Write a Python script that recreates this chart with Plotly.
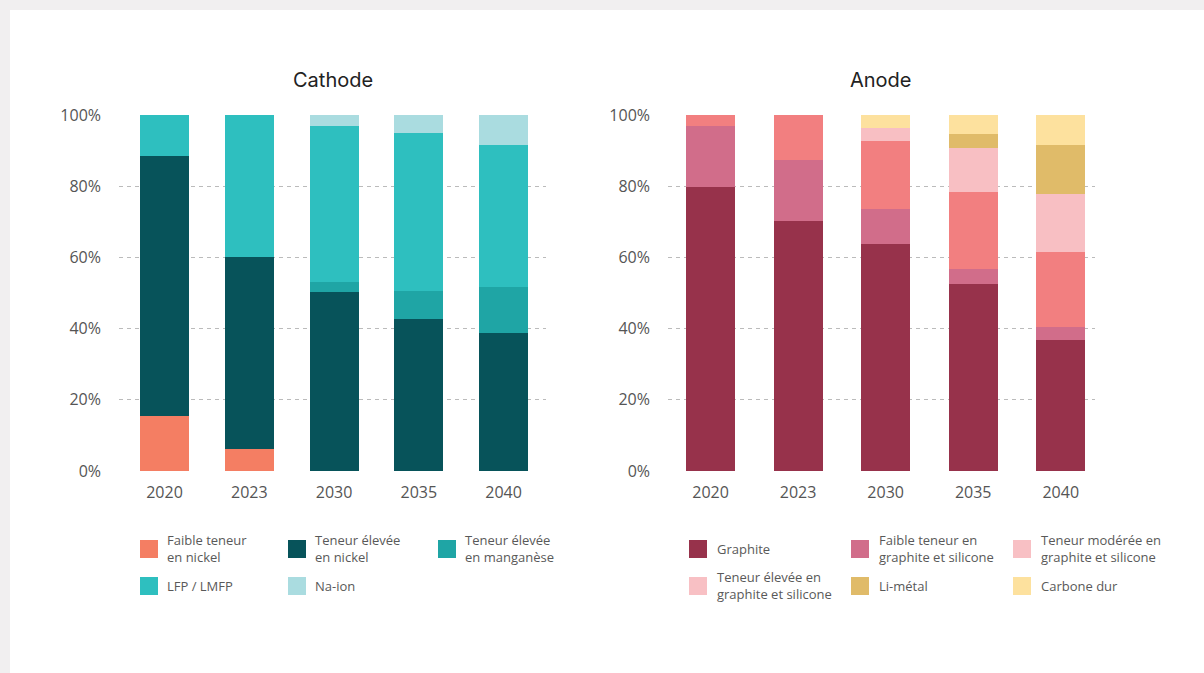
import plotly.graph_objects as go

W, H = 1204, 673

years = ["2020", "2023", "2030", "2035", "2040"]

# Cathode shares (%)
cath_faible_nickel = [15.4, 6.1, 0.0, 0.0, 0.0]
cath_eleve_nickel = [73.1, 54.0, 50.2, 42.6, 38.7]
cath_manganese = [0.0, 0.0, 2.8, 7.9, 12.9]
cath_lfp = [11.5, 39.9, 43.9, 44.4, 40.0]
cath_naion = [0.0, 0.0, 3.1, 5.1, 8.4]

# Anode shares (%)
an_graphite = [79.8, 70.2, 63.7, 52.5, 36.7]
an_faible = [17.1, 17.1, 9.9, 4.2, 3.7]
an_moderee = [3.1, 12.7, 19.1, 21.7, 21.1]
an_elevee = [0.0, 0.0, 3.6, 12.4, 16.3]
an_limetal = [0.0, 0.0, 0.0, 3.9, 13.8]
an_carbone = [0.0, 0.0, 3.7, 5.3, 8.4]

cath_names = ["Faible teneur en nickel", "Teneur élevée en nickel",
              "Teneur élevée en manganèse", "LFP / LMFP", "Na-ion"]
cath_colors = ["#F47E63", "#07535A", "#1FA5A5", "#2EBFBF", "#AADCE0"]
cath_legend_lines = [["Faible teneur", "en nickel"], ["Teneur élevée", "en nickel"],
                     ["Teneur élevée", "en manganèse"], ["LFP / LMFP"], ["Na-ion"]]

an_names = ["Graphite", "Faible teneur en graphite et silicone",
            "Teneur modérée en graphite et silicone",
            "Teneur élevée en graphite et silicone", "Li-métal", "Carbone dur"]
an_colors = ["#97324B", "#D16D8A", "#F27F80", "#F8BFC3", "#E0BB69", "#FDE19E"]
an_legend_colors = ["#97324B", "#D16D8A", "#F8C0C4", "#F8C0C4", "#E0BB69", "#FDE19E"]
an_legend_lines = [["Graphite"], ["Faible teneur en", "graphite et silicone"],
                   ["Teneur modérée en", "graphite et silicone"],
                   ["Teneur élevée en", "graphite et silicone"], ["Li-métal"], ["Carbone dur"]]

cath_series = [cath_faible_nickel, cath_eleve_nickel, cath_manganese, cath_lfp, cath_naion]
an_series = [an_graphite, an_faible, an_moderee, an_elevee, an_limetal, an_carbone]


def px_x(x):
    return x / W


def px_y(y):
    return 1 - y / H


fig = go.Figure()
for name, vals, col in zip(cath_names, cath_series, cath_colors):
    fig.add_trace(go.Bar(x=years, y=vals, name=name, marker=dict(color=col, line=dict(width=0)),
                         width=0.578, xaxis="x", yaxis="y", showlegend=False))
for name, vals, col in zip(an_names, an_series, an_colors):
    fig.add_trace(go.Bar(x=years, y=vals, name=name, marker=dict(color=col, line=dict(width=0)),
                         width=0.56, xaxis="x2", yaxis="y2", showlegend=False))

tickfont = dict(family="Open Sans", size=16, color="#555555")
grid = dict(showgrid=True, gridcolor="#BBBBBB", gridwidth=1, griddash="4px,4px",
            zeroline=False, showline=False, range=[0, 100], tickvals=[0, 20, 40, 60, 80, 100],
            ticktext=["0%", "20%", "40%", "60%", "80%", "100%"], tickfont=tickfont,
            ticks="", ticklabelstandoff=17, fixedrange=True)
ydom = [px_y(471), px_y(115)]
xcommon = dict(type="category", showgrid=False, zeroline=False, showline=False,
               tickfont=tickfont, ticks="", ticklabelstandoff=10, fixedrange=True)

fig.update_layout(
    width=W, height=H, barmode="stack", bargap=0,
    margin=dict(l=0, r=0, t=0, b=0, autoexpand=False),
    paper_bgcolor="#F1EFF0", plot_bgcolor="rgba(0,0,0,0)",
    xaxis=dict(domain=[px_x(119), px_x(546)], range=[-0.537, 4.50], anchor="y", **xcommon),
    xaxis2=dict(domain=[px_x(668), px_x(1095)], range=[-0.486, 4.391], anchor="y2", **xcommon),
    yaxis=dict(domain=ydom, anchor="x", **grid),
    yaxis2=dict(domain=ydom, anchor="x2", **grid),
    showlegend=False,
    hovermode=False,
)

shapes = [dict(type="rect", xref="paper", yref="paper", x0=px_x(10), x1=1.0,
               y0=0.0, y1=px_y(10), fillcolor="#FFFFFF", line=dict(width=0), layer="below")]
annotations = [
    dict(text="Cathode", x=px_x(332.5), y=px_y(80), xref="paper", yref="paper",
         xanchor="center", yanchor="middle", showarrow=False,
         font=dict(family="Inter", size=20, color="#222222")),
    dict(text="Anode", x=px_x(881.5), y=px_y(80), xref="paper", yref="paper",
         xanchor="center", yanchor="middle", showarrow=False,
         font=dict(family="Inter", size=20, color="#222222")),
]

legfont = dict(family="Open Sans", size=13, color="#595959")


def add_legend(lines_list, colors, col_x, text_dx, row_y):
    for i, (lines, col) in enumerate(zip(lines_list, colors)):
        r, c = divmod(i, 3)
        sx = col_x[c]
        cy = row_y[r]
        shapes.append(dict(type="rect", xref="paper", yref="paper",
                           x0=px_x(sx), x1=px_x(sx + 18), y0=px_y(cy + 9), y1=px_y(cy - 9),
                           fillcolor=col, line=dict(width=0)))
        ty = cy if len(lines) == 1 else cy - 1
        annotations.append(dict(text="<br>".join(lines), x=px_x(sx + text_dx), y=px_y(ty),
                                xref="paper", yref="paper", xanchor="left", align="left",
                                yanchor="middle", showarrow=False, font=legfont,
                                borderpad=0))


add_legend(cath_legend_lines, cath_colors, [140, 288, 438], 26, [549, 586])
add_legend(an_legend_lines, an_legend_colors, [689, 851, 1013], 26.5, [549, 586])

fig.update_layout(shapes=shapes, annotations=annotations)
fig.write_html(
    "out.html",
    config={"displayModeBar": False, "staticPlot": True},
    post_script=(
        "var gd=document.getElementById('{plot_id}');"
        "gd.style.position='fixed';gd.style.top='0px';gd.style.left='0px';"
        "document.body.style.margin='0';document.body.style.background='#F1EFF0';"
        "document.documentElement.style.overflow='hidden';"
    ),
)
